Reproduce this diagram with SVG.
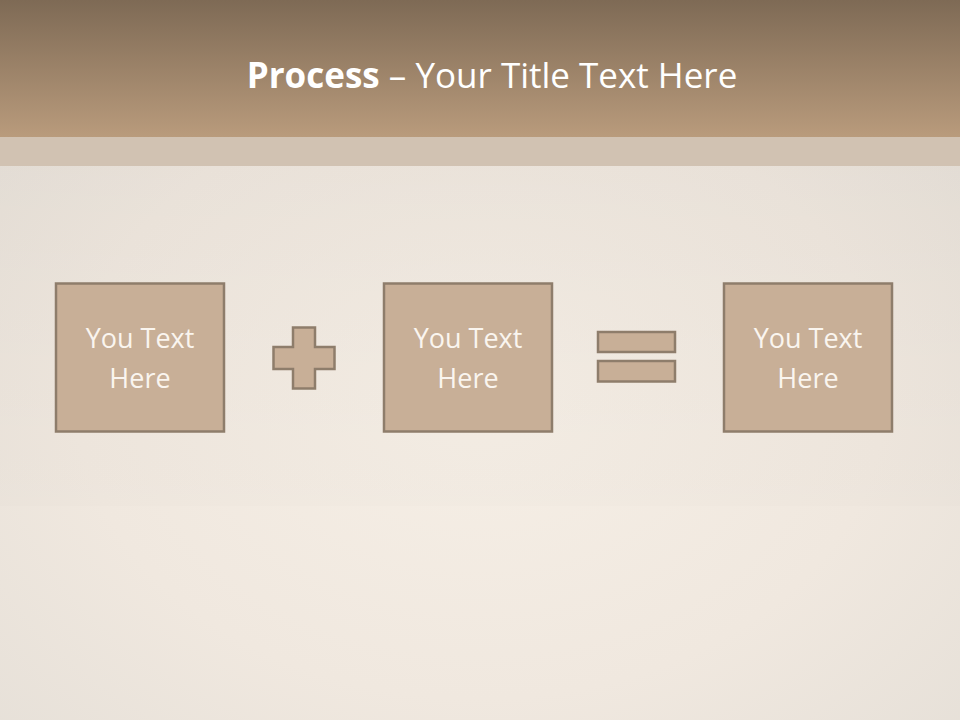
<svg xmlns="http://www.w3.org/2000/svg" width="960" height="720" viewBox="0 0 960 720">
<defs>
<linearGradient id="hdr" x1="0" y1="0" x2="0" y2="1">
<stop offset="0" stop-color="#7e6a55"/>
<stop offset="1" stop-color="#b99b7c"/>
</linearGradient>
<radialGradient id="bg" cx="0.5" cy="0.55" r="0.7">
<stop offset="0" stop-color="#f6efe6"/>
<stop offset="0.6" stop-color="#f0e8df"/>
<stop offset="1" stop-color="#e6e0d8"/>
</radialGradient>
<linearGradient id="shade" x1="0" y1="0" x2="0" y2="1">
<stop offset="0" stop-color="#000" stop-opacity="0.03"/>
<stop offset="1" stop-color="#000" stop-opacity="0.01"/>
</linearGradient>
</defs>
<style>
.box{fill:#c8af97;stroke:#8e7d6b;stroke-width:2.5}
.sym{fill:#c8af97;stroke:#8e7d6b;stroke-width:2.5}
.lbl{font-family:"Open Sans","Liberation Sans",sans-serif;font-size:27px;fill:#faf5ef;text-anchor:middle}
.ttl{font-family:"Open Sans","Liberation Sans",sans-serif;font-size:35px;fill:#ffffff;text-anchor:middle}
</style>
<rect x="0" y="0" width="960" height="720" fill="url(#bg)"/>
<rect x="0" y="166" width="960" height="340" fill="url(#shade)"/>
<rect x="0" y="0" width="960" height="137" fill="url(#hdr)"/>
<rect x="0" y="137" width="960" height="29" fill="#d1c2b2"/>
<g id="title">
<text class="ttl" x="492" y="88"><tspan font-weight="bold">Process</tspan> – Your Title Text Here</text>
</g>
<g id="node1">
<rect class="box" x="56" y="283.5" width="168" height="148"/>
<text class="lbl" x="140" y="348">You Text</text>
<text class="lbl" x="140" y="388">Here</text>
</g>
<g id="plus">
<path class="sym" d="M293,327.5 H315 V347 H334.5 V369 H315 V388.5 H293 V369 H273.5 V347 H293 Z"/>
</g>
<g id="node2">
<rect class="box" x="384" y="283.5" width="168" height="148"/>
<text class="lbl" x="468" y="348">You Text</text>
<text class="lbl" x="468" y="388">Here</text>
</g>
<g id="equals">
<rect class="sym" x="598" y="332" width="77" height="20"/>
<rect class="sym" x="598" y="361" width="77" height="20.5"/>
</g>
<g id="node3">
<rect class="box" x="724" y="283.5" width="168" height="148"/>
<text class="lbl" x="808" y="348">You Text</text>
<text class="lbl" x="808" y="388">Here</text>
</g>
<g id="connectors"></g>
</svg>
